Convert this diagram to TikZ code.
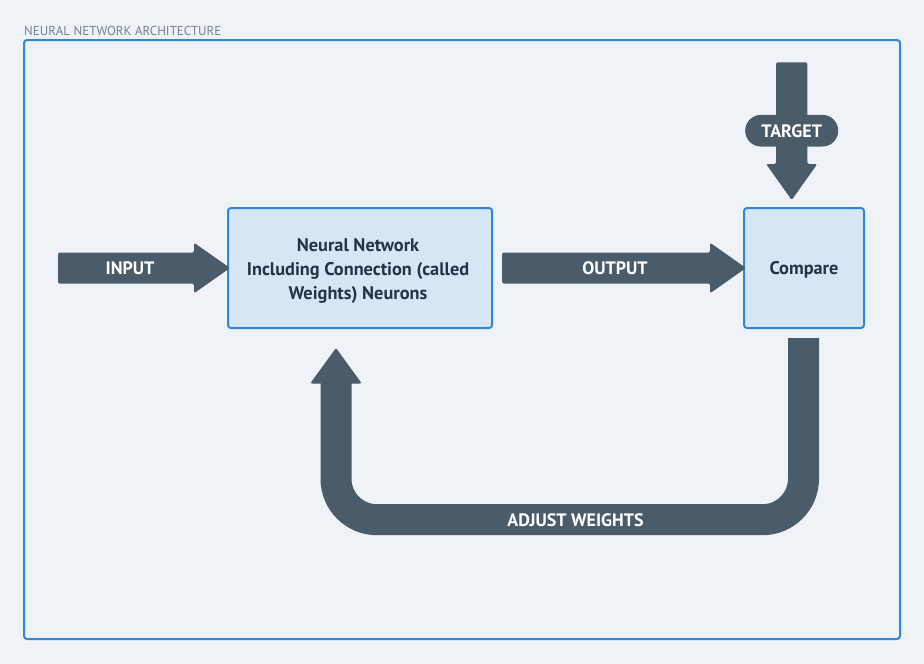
\documentclass[tikz,border=0pt]{standalone}
\usepackage{fontspec}
\setmainfont{PT Sans}
\usetikzlibrary{calc}
\definecolor{bgc}{HTML}{EFF3F7}
\definecolor{framec}{HTML}{2F86DA}
\definecolor{boxfill}{HTML}{D6E6F5}
\definecolor{arrc}{HTML}{4A5B6A}
\definecolor{textc}{HTML}{243444}
\definecolor{titlec}{HTML}{75828F}
\tikzset{
  box/.style={draw=framec, fill=boxfill, line width=2pt, rounded corners=3pt, outer sep=0pt},
  boxtext/.style={align=center, text=textc, inner sep=0pt, font=\bfseries\fontsize{18.3}{24}\selectfont},
  blockarrow/.style={fill=arrc, rounded corners=1.5pt},
  lbl/.style={text=white, font=\bfseries\fontsize{18}{20}\selectfont, inner sep=0pt},
  ushape/.style={draw=arrc, line width=31pt, rounded corners=41pt},
  pill/.style={fill=arrc, rounded corners=15.8pt, minimum width=93pt, minimum height=31.7pt, inner sep=0pt}
}
\begin{document}
\begin{tikzpicture}[x=1pt,y=-1pt]
\fill[bgc] (0,0) rectangle (924,664);
\useasboundingbox (0,0) rectangle (924,664);
\draw[framec, line width=2pt, rounded corners=3pt] (24,40) rectangle (900,639);
\node[anchor=west, inner sep=0pt, text=titlec, font=\fontsize{13}{14}\selectfont] (title) at (24,31) {NEURAL NETWORK ARCHITECTURE};

\node[box, minimum width=264pt, minimum height=120pt] (nn) at (360,268) {};
\node[boxtext] (nntext) at ($(nn.center)+(-2,3)$) {Neural Network\\Including Connection (called\\Weights) Neurons};
\node[box, minimum width=120pt, minimum height=120pt] (cmp) at (804,268) {};
\node[boxtext] (cmptext) at ($(cmp.center)+(0,1.5)$) {Compare};

% input arrow
\fill[blockarrow] ($(nn.west)+(2,0)$) coordinate (intip) -- ++(-36,-25.3) -- ++(0,9.8) -- ++(-136,0) -- ++(0,31) -- ++(136,0) -- ++(0,9.8) -- cycle;
\node[lbl] (inlbl) at (130,268) {INPUT};

% output arrow
\fill[blockarrow] ($(cmp.west)+(2,0)$) coordinate (outtip) -- ++(-36,-25.3) -- ++(0,9.8) -- ++(-208,0) -- ++(0,31) -- ++(208,0) -- ++(0,9.8) -- cycle;
\node[lbl] (outlbl) at (615,268) {OUTPUT};

% target arrow
\fill[blockarrow] ($(cmp.north)+(-12.3,-8)$) coordinate (tgttip) -- ++(-25.6,-36) -- ++(10,0) -- ++(0,-101.7) -- ++(31.2,0) -- ++(0,101.7) -- ++(10,0) -- cycle;
\node[pill] (tgt) at (791.7,130.7) {};
\node[lbl] (tgtlbl) at (tgt.center) {TARGET};

% adjust weights U arrow
\coordinate (ustart) at ($(cmp.south)+(-0.5,10)$);
\coordinate (utip) at ($(nn.south)+(-24,20)$);
\coordinate (ubot) at (0,519.7);
\draw[ushape] (ustart) -- (ustart |- ubot) -- (utip |- ubot) -- ($(utip)+(0,35)$);
\fill[blockarrow] (utip) -- ++(-25.8,35.5) -- ++(51.6,0) -- cycle;
\node[lbl] (adjlbl) at (575.5,520) {ADJUST WEIGHTS};
\end{tikzpicture}
\end{document}
